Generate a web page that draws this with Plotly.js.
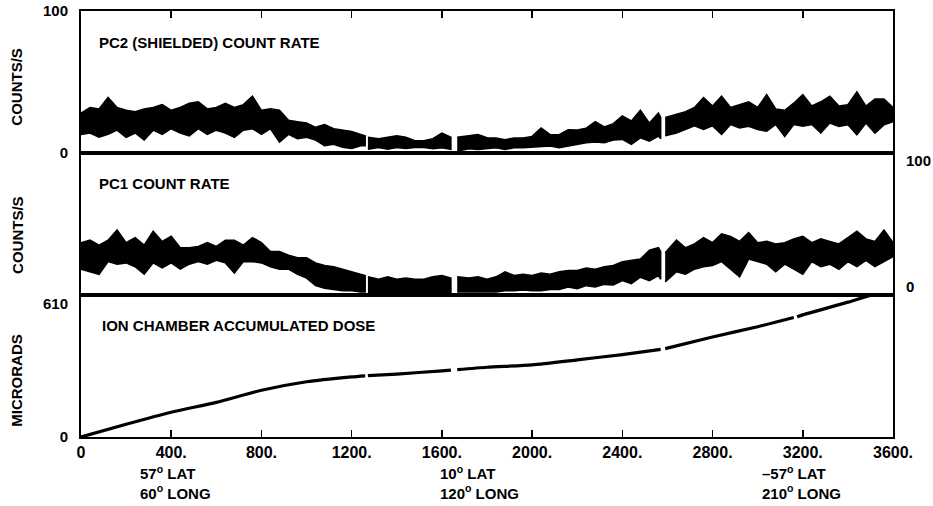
<!DOCTYPE html>
<html>
<head>
<meta charset="utf-8">
<script src="https://cdn.plot.ly/plotly-3.0.1.min.js"></script>
<style>html,body{margin:0;padding:0;background:#fff;}#chart{width:933px;height:506px;}</style>
</head>
<body>
<div id="chart"></div>
<script>
// Shared time axis for the count-rate bands (null rows mark data gaps)
const timeX = [0,40,80,120,160,200,240,280,320,360,400,440,480,520,560,600,640,680,720,760,800,840,880,920,960,1000,1040,1080,1120,1160,1200,1240,1260,
  1266,
  1272,1320,1360,1400,1440,1480,1520,1560,1600,1640,
  1654,
  1668,1720,1760,1800,1840,1880,1920,1960,2000,2040,2080,2120,2160,2200,2240,2280,2320,2360,2400,2440,2480,2520,2560,2570,
  2580,
  2590,2640,2680,2720,2760,2800,2840,2880,2920,2960,3000,3040,3080,3120,3160,3200,3240,3280,3320,3360,3400,3440,3480,3520,3560,3600];

// PC2 (shielded) count rate: upper and lower edge of the trace band
const pc2Upper = [28,32,31,39,32,30,29,31,32,34,30,32,35,36,31,32,35,32,34,40,30,31,30,23,22,21,18,20,17,16,15,13,12,
  null,
  11,10,11,12,11,8.5,8.5,10,14,11,
  null,
  11,12,13,10.6,10.5,9.3,10.5,10.5,11.6,17.6,12.8,12.8,16.3,16.2,17.4,22,18.3,20.6,26,22.5,30,21,28,25,
  null,
  25,27,29,32,39,33,40,32,34,36,32,41,31,30,35,41,33,36,40,33,34,43,33,38,38,32];
const pc2Lower = [13,14,11,13,16,11,14,9,16,13,17,14,12,17,13,16,14,11,16,17,13,17,7.6,13,10,11,9,5,6,4,3,5,5,
  null,
  2.6,3.8,2.6,3.8,3,3.7,3.7,2.9,3.6,2.4,
  null,
  1.2,2.9,2.4,2.9,3.6,2.4,3.6,3.6,3.6,4.3,4.8,3.6,5.3,6,7.2,7.7,7.2,9,9.5,6,10.6,8.3,11.8,10,
  null,
  12,14,16.5,19,16.5,19,13,20,17.6,18.8,16.4,15.2,20,11.6,20,18.7,20,14,21,18.6,19.8,12.7,21,13.8,19.7,22];

// PC1 count rate: upper and lower edge of the trace band
const pc1Upper = [35,37,33,37,45,35,39,33,44,36,40,31,31,32,35,32,37,37,33,39,35,28,28,25,23,23,19,17,16,14,12,10,9,
  null,
  8,6,8,6,7,6,6,8,9,7,
  null,
  8,7,8,6,8,12,9,10,9,11,10,12,13,13,15,14,16,17,20,21,22,29,31,28,
  null,
  27,37,31,34,39,35,42,40,36,43,35,36,34,35,38,40,35,38,36,34,39,44,38,36,45,35];
const pc1Lower = [14,12,10,20,18,19,16,10,19,15,19,14,18,20,18,21,19,11,20,20,19,16,14,14,10,7,1,-1,-2,-3,-3,-4,-4,
  null,
  -5,-5,-5,-5,-5.5,-5.5,-5.5,-5.5,-5,-5.5,
  null,
  -4,-4.5,-4,-4,-4,-3,-3,-2.5,-3,-3,-2,-2,0,-1.5,1,0,2,1.5,5,2.5,7.7,5,9,6,
  null,
  4,12,10,14,16,17,20,14,8,22,20,18,12,18,14,10,20,16,18,14,20,16,21,16,20,24];

// Ion chamber accumulated dose (microrads)
const doseX = [0,200,400,600,800,1000,1200,1260,1266,1272,1400,1600,1640,1654,1668,1800,2000,2200,2400,2570,2580,2590,2800,3000,3160,3167,3175,3200,3400,3520,3600];
const doseY = [0,58,113,158,213,252,274,279,null,280,287,302,305,null,307,318,329,352,376,400,null,403,456,503,545,null,548,557,615,650,650];

// Axis ticks
const xTickVals = [0,400,800,1200,1600,2000,2400,2800,3200,3600];
const xTickText = ['0','400.','800.','1200.','1600.','2000.','2400.','2800.','3200.','3600.'];

const FONT = 'Liberation Sans, Arial, Helvetica, sans-serif';

function bandTraces(xs, lo, hi, xa, ya) {
  const out = [];
  let sx = [], sl = [], sh = [];
  const flush = () => {
    if (sx.length > 1) {
      out.push({
        type: 'scatter', mode: 'lines', xaxis: xa, yaxis: ya,
        x: sx.concat(sx.slice().reverse()),
        y: sh.concat(sl.slice().reverse()),
        fill: 'toself', fillcolor: 'black',
        line: {color: 'black', width: 1.5}, hoverinfo: 'skip'
      });
    }
    sx = []; sl = []; sh = [];
  };
  for (let i = 0; i < xs.length; i++) {
    if (hi[i] === null || lo[i] === null) { flush(); continue; }
    sx.push(xs[i]); sl.push(lo[i]); sh.push(hi[i]);
  }
  flush();
  return out;
}

const traces = []
  .concat(bandTraces(timeX, pc2Lower, pc2Upper, 'x3', 'y3'))
  .concat(bandTraces(timeX, pc1Lower, pc1Upper, 'x2', 'y2'))
  .concat([{
    type: 'scatter', mode: 'lines', x: doseX, y: doseY, xaxis: 'x', yaxis: 'y',
    line: {color: 'black', width: 3.2, shape: 'spline', smoothing: 0.6}, connectgaps: false, hoverinfo: 'skip'
  }]);

const boxLine = {showline: true, mirror: true, linecolor: 'black', linewidth: 2, showgrid: false, zeroline: false};
const tf = {family: FONT, size: 15, color: 'black', weight: 'bold'};

const layout = {
  width: 933, height: 506,
  margin: {l: 81, r: 40, t: 11, b: 69, pad: 0},
  paper_bgcolor: 'white', plot_bgcolor: 'white',
  showlegend: false,
  font: {family: FONT, color: 'black'},
  xaxis: Object.assign({}, boxLine, {
    domain: [0, 1], anchor: 'y', range: [0, 3600],
    tickvals: xTickVals, ticktext: xTickText, ticks: 'inside', ticklen: 7, tickwidth: 1.5, tickcolor: 'black',
    tickfont: {family: FONT, size: 16, color: 'black', weight: 'bold'}
  }),
  yaxis: Object.assign({}, boxLine, {
    domain: [0, 0.333], anchor: 'x', range: [0, 647],
    tickvals: [0, 610], ticktext: ['0', '610'], ticks: '', ticklabelstandoff: 8, tickfont: tf
  }),
  xaxis2: Object.assign({}, boxLine, {
    domain: [0, 1], anchor: 'y2', range: [0, 3600], showticklabels: false, ticks: ''
  }),
  yaxis2: Object.assign({}, boxLine, {
    domain: [0.333, 0.667], anchor: 'x2', range: [-6.5, 106], side: 'right',
    tickvals: [0, 100], ticktext: ['0', '100'], ticks: '', ticklabelstandoff: 8, tickfont: tf
  }),
  xaxis3: Object.assign({}, boxLine, {
    domain: [0, 1], anchor: 'y3', range: [0, 3600], side: 'top', showticklabels: false,
    tickvals: xTickVals, ticks: 'inside', ticklen: 7, tickwidth: 1.5, tickcolor: 'black'
  }),
  yaxis3: Object.assign({}, boxLine, {
    domain: [0.667, 1], anchor: 'x3', range: [0, 100],
    tickvals: [0, 100], ticktext: ['0', '100'], ticks: '', ticklabelstandoff: 8, tickfont: tf
  }),
  annotations: [
    {xref: 'x3', yref: 'y3', x: 71, y: 78, xanchor: 'left', yanchor: 'middle', showarrow: false,
     text: 'PC2 (SHIELDED) COUNT RATE', font: {family: FONT, size: 15, weight: 'bold'}},
    {xref: 'x2', yref: 'y2', x: 71, y: 82, xanchor: 'left', yanchor: 'middle', showarrow: false,
     text: 'PC1 COUNT RATE', font: {family: FONT, size: 15, weight: 'bold'}},
    {xref: 'x', yref: 'y', x: 84, y: 507, xanchor: 'left', yanchor: 'middle', showarrow: false,
     text: 'ION CHAMBER ACCUMULATED DOSE', font: {family: FONT, size: 15, weight: 'bold'}},
    {xref: 'paper', yref: 'paper', x: -0.079, y: 0.822, xanchor: 'center', yanchor: 'middle', showarrow: false,
     textangle: -90, text: 'COUNTS/S', font: {family: FONT, size: 15, weight: 'bold'}},
    {xref: 'paper', yref: 'paper', x: -0.079, y: 0.474, xanchor: 'center', yanchor: 'middle', showarrow: false,
     textangle: -90, text: 'COUNTS/S', font: {family: FONT, size: 15, weight: 'bold'}},
    {xref: 'paper', yref: 'paper', x: -0.079, y: 0.134, xanchor: 'center', yanchor: 'middle', showarrow: false,
     textangle: -90, text: 'MICRORADS', font: {family: FONT, size: 15, weight: 'bold'}},
    {xref: 'x', yref: 'paper', x: 253, y: -0.107, xanchor: 'left', yanchor: 'middle', align: 'left', showarrow: false,
     text: '57<sup>o</sup> LAT<br>60<sup>o</sup> LONG', font: {family: FONT, size: 15, weight: 'bold'}},
    {xref: 'x', yref: 'paper', x: 1583, y: -0.107, xanchor: 'left', yanchor: 'middle', align: 'left', showarrow: false,
     text: '10<sup>o</sup> LAT<br>120<sup>o</sup> LONG', font: {family: FONT, size: 15, weight: 'bold'}},
    {xref: 'x', yref: 'paper', x: 3010, y: -0.107, xanchor: 'left', yanchor: 'middle', align: 'left', showarrow: false,
     text: '\u201357<sup>o</sup> LAT<br>210<sup>o</sup> LONG', font: {family: FONT, size: 15, weight: 'bold'}}
  ]
};

Plotly.newPlot('chart', traces, layout, {staticPlot: true, displayModeBar: false});
</script>
</body>
</html>
